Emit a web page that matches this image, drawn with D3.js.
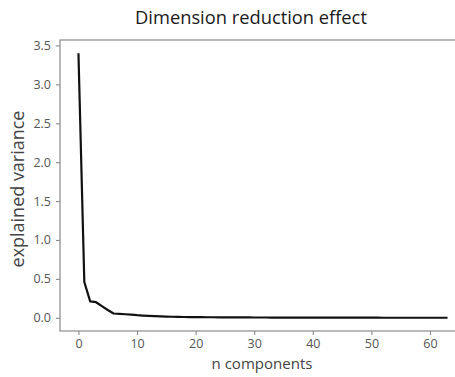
<!DOCTYPE html>
<html><head><meta charset="utf-8">
<script src="https://cdn.jsdelivr.net/npm/d3@7/dist/d3.min.js"></script>
<style>body{margin:0;background:#fff;overflow:hidden}svg{display:block}</style>
</head><body>
<script>
const titleText = "Dimension reduction effect";
const xLabel = "n components";
const yLabel = "explained variance";
const xTicks = [0, 10, 20, 30, 40, 50, 60];
const yTicks = [0.0, 0.5, 1.0, 1.5, 2.0, 2.5, 3.0, 3.5];
const variance = [3.40, 0.46, 0.21, 0.20, 0.15, 0.10, 0.055, 0.050, 0.045, 0.040,
  0.033, 0.028, 0.024, 0.020, 0.017, 0.015, 0.013, 0.011, 0.010, 0.009,
  0.008, 0.0075, 0.007, 0.0065, 0.006, 0.0055, 0.005, 0.0047, 0.0044, 0.0041,
  0.0038, 0.0035, 0.0032, 0.0030, 0.0028, 0.0026, 0.0024, 0.0022, 0.0020, 0.0019,
  0.0018, 0.0017, 0.0016, 0.0015, 0.0014, 0.0013, 0.0012, 0.0011, 0.0010, 0.0009,
  0.0008, 0.0007, 0.0006, 0.0005, 0.0004, 0.0003, 0.0002, 0.0001, 0.0, 0.0,
  0.0, 0.0, 0.0, 0.0];

const W = 455, H = 377;
const mLeft = 60, mTop = 40, mBottom = 331;
const font = "'Open Sans', sans-serif";
const svg = d3.select("body").append("svg").attr("width", W).attr("height", H);

const x = d3.scaleLinear().domain([-3.15, 66.15]).range([mLeft, 466]);
const y = d3.scaleLinear().domain([-0.17, 3.57]).range([mBottom, mTop]);

const gray = "#8a8a8a", tickCol = "#555";

svg.append("rect").attr("x", mLeft).attr("y", mTop).attr("width", x(66.15) - mLeft).attr("height", mBottom - mTop)
  .attr("fill", "none").attr("stroke", gray).attr("stroke-width", 1.2);

const xa = svg.append("g").attr("transform", `translate(0,${mBottom})`)
  .call(d3.axisBottom(x).tickValues(xTicks).tickSize(4).tickPadding(4).tickFormat(d3.format("d")));
const ya = svg.append("g").attr("transform", `translate(${mLeft},0)`)
  .call(d3.axisLeft(y).tickValues(yTicks).tickSize(4).tickPadding(5).tickFormat(d3.format(".1f")));
[xa, ya].forEach(g => {
  g.select(".domain").remove();
  g.selectAll("line").attr("stroke", gray).attr("stroke-width", 1.1);
  g.selectAll("text").attr("fill", tickCol).attr("font-family", font).attr("font-size", 12.5);
});

svg.append("path").datum(variance)
  .attr("d", d3.line().x((d, i) => x(i)).y(d => y(d)))
  .attr("fill", "none").attr("stroke", "#111").attr("stroke-width", 2.2).attr("stroke-linejoin", "round");

function fit(sel, target) {
  const w = sel.node().getComputedTextLength();
  const fs = parseFloat(sel.attr("font-size"));
  sel.attr("font-size", (fs * target / w).toFixed(2));
}
const t = svg.append("text").attr("x", 251).attr("y", 24).attr("text-anchor", "middle")
  .attr("font-family", font).attr("font-size", 18).attr("fill", "#1a1a1a").text(titleText);
fit(t, 232);
const xl = svg.append("text").attr("x", 262).attr("y", 369).attr("text-anchor", "middle")
  .attr("font-family", font).attr("font-size", 14).attr("fill", "#444").text(xLabel);
fit(xl, 101);
const yl = svg.append("text").attr("transform", `translate(24,189) rotate(-90)`).attr("text-anchor", "middle")
  .attr("font-family", font).attr("font-size", 14).attr("fill", "#444").text(yLabel);
fit(yl, 157);
</script>
</body></html>
